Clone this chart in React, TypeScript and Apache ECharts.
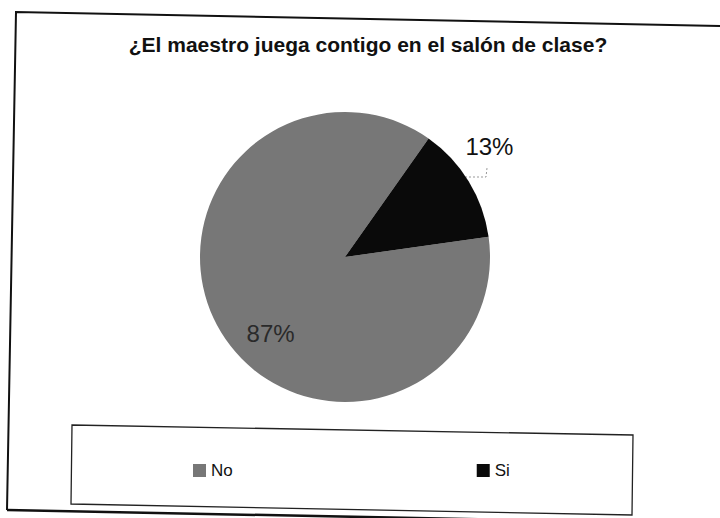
import React, { useEffect, useRef } from "react";
import * as echarts from "echarts";

const titleText = "¿El maestro juega contigo en el salón de clase?";
const categories = ["No", "Si"];
const values = [87, 13];

const FONT = "'Liberation Sans', Arial, sans-serif";

export default function App() {
  const ref = useRef<HTMLDivElement>(null);
  useEffect(() => {
    if (!ref.current) return;
    const chart = echarts.init(ref.current, undefined, { renderer: "svg" });
    const sliceColors = ["#777777", "#0a0a0a"];
    const labelOffsets = [
      [-10, 37],
      [80, -71],
    ];
    const labelColors = ["#2a2a2a", "#111111"];
    chart.setOption({
      animation: false,
      backgroundColor: "#ffffff",
      title: {
        text: titleText,
        left: 368,
        textAlign: "center",
        top: 34,
        padding: 0,
        textStyle: {
          fontFamily: FONT,
          fontSize: 21,
          fontWeight: "bold",
          color: "#111111",
        },
      },
      legend: {
        data: categories,
        left: 193,
        top: 462,
        padding: 0,
        itemWidth: 13,
        itemHeight: 13,
        itemGap: 244,
        icon: "rect",
        selectedMode: false,
        textStyle: { fontFamily: FONT, fontSize: 17, color: "#111111" },
      },
      series: [
        {
          type: "pie",
          center: [345, 257],
          radius: 145,
          startAngle: 8,
          clockwise: true,
          silent: true,
          labelLine: { show: false },
          label: {
            fontFamily: FONT,
            fontSize: 24,
            formatter: (p: any) => `${p.value}%`,
          },
          data: categories.map((name, i) => ({
            name,
            value: values[i],
            itemStyle: { color: sliceColors[i] },
            label: {
              position: "inside",
              offset: labelOffsets[i],
              color: labelColors[i],
            },
          })),
        },
      ],
      graphic: [
        // outer frame (scan is slightly tilted)
        {
          type: "polyline",
          shape: { points: [[7, 510], [16, 12], [720, 26]] },
          style: { stroke: "#111111", lineWidth: 2, fill: null },
          silent: true,
        },
        {
          type: "line",
          shape: { x1: 7, y1: 510, x2: 720, y2: 524 },
          style: { stroke: "#111111", lineWidth: 2.5 },
          silent: true,
        },
        // legend box
        {
          type: "polygon",
          shape: { points: [[72, 425], [633, 435], [632, 515], [71, 504]] },
          style: { stroke: "#222222", lineWidth: 1.3, fill: null },
          silent: true,
        },
        // leader line of the small slice label
        {
          type: "polyline",
          shape: { points: [[465, 177], [486, 177], [487, 168]] },
          style: { stroke: "#999999", lineWidth: 1, lineDash: [2, 2], fill: null },
          silent: true,
        },
      ],
    });
    return () => chart.dispose();
  }, []);
  return (
    <div
      ref={ref}
      style={{ position: "absolute", left: 0, top: 0, width: 720, height: 518 }}
    />
  );
}
